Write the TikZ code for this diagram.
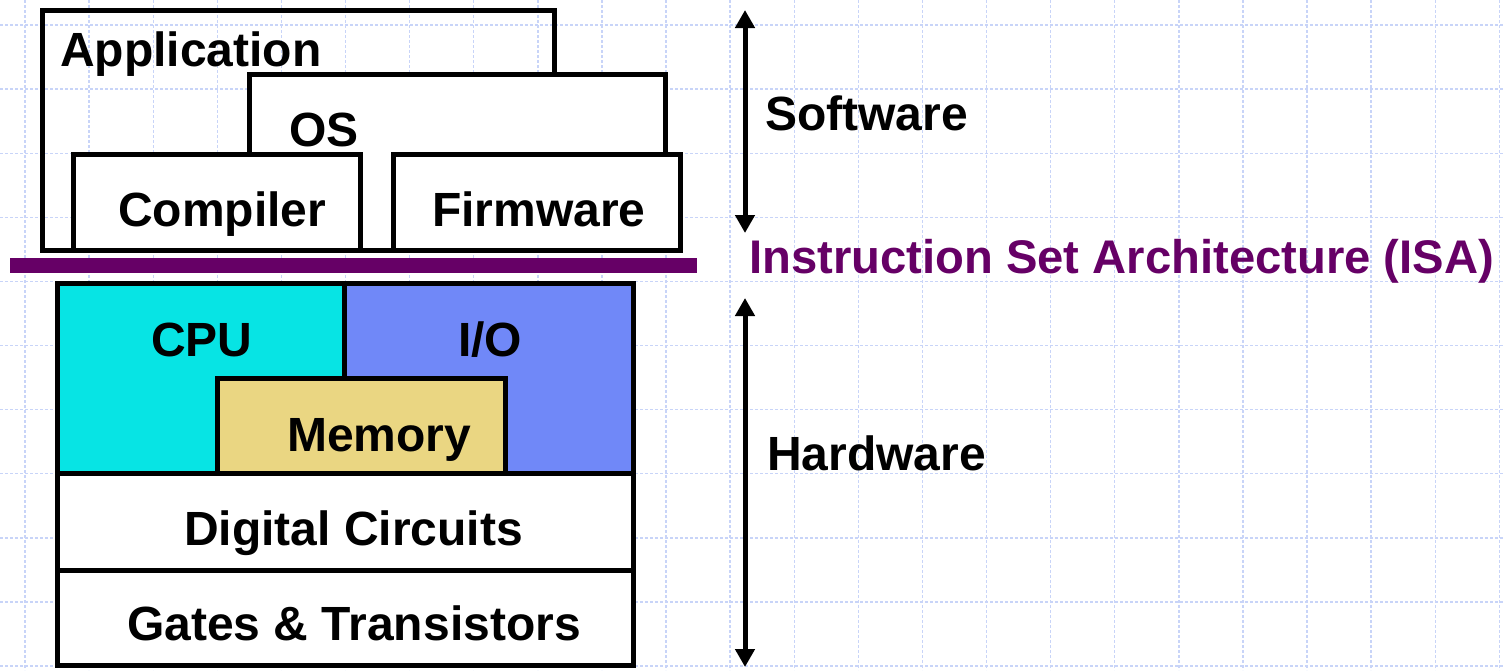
\documentclass[tikz,border=0pt]{standalone}
\usepackage{fontspec}
\setmainfont{Liberation Sans}
\usetikzlibrary{arrows.meta}

\definecolor{gridblue}{RGB}{200,212,248}
\definecolor{isapurple}{RGB}{102,0,102}
\definecolor{cpucyan}{RGB}{7,228,228}
\definecolor{ioblue}{RGB}{112,136,248}
\definecolor{memyellow}{RGB}{234,214,130}

\begin{document}
\begin{tikzpicture}[x=1pt,y=-1pt,
  gridline/.style={draw=gridblue,line width=1.4pt,dash pattern=on 3pt off 2pt},
  layer/.style={draw=black,line width=5pt,line join=miter},
  label/.style={anchor=base west,inner sep=0pt,font=\fontsize{48}{50}\selectfont\bfseries},
  span/.style={line width=5pt,{Triangle[width=19pt,length=18pt]}-{Triangle[width=19pt,length=18pt]}}]

\useasboundingbox[fill=white] (0,0) rectangle (1503,670);

% background grid
\foreach \i in {0,...,23} {
  \draw[gridline] ({25+64.1*\i},0) -- ({25+64.1*\i},670);
}
\foreach \j in {0,...,10} {
  \draw[gridline] (0,{25+64.1*\j}) -- (1503,{25+64.1*\j});
}

% software layers
\draw[layer] (42,10) rectangle (554,250);
\draw[layer,fill=white] (249,74) rectangle (665,250);
\draw[layer,fill=white] (73,154) rectangle (360,250);
\draw[layer,fill=white] (393,154) rectangle (680,250);

\node[label] (app) at (60,66) {Application};
\node[label] (os) at (289,146) {OS};
\node[label] (comp) at (118,226) {Compiler};
\node[label] (firm) at (432,226) {Firmware};

% ISA boundary
\fill[isapurple] (10,258) rectangle (697,273);
\node[label,text=isapurple,font=\fontsize{47.2}{50}\selectfont\bfseries] (isa) at (749,273) {Instruction Set Architecture (ISA)};

% hardware layers
\draw[layer,fill=cpucyan] (57,283) rectangle (344,473);
\draw[layer,fill=ioblue] (344,283) rectangle (633,473);
\draw[layer,fill=memyellow] (217,378) rectangle (505,473);
\draw[layer,fill=white] (57,473) rectangle (633,570);
\draw[layer,fill=white] (57,570) rectangle (633,665);

\node[label] (cpu) at (151,356) {CPU};
\node[label] (io) at (458,356) {I/O};
\node[label] (mem) at (287,451) {Memory};
\node[label] (dig) at (184,545) {Digital Circuits};
\node[label] (gates) at (127,640) {Gates \& Transistors};

% extent arrows
\coordinate (swtop) at (745,10);
\coordinate (swbot) at (745,233);
\coordinate (hwtop) at (745,298);
\coordinate (hwbot) at (745,667);
\draw[span] (swtop) -- (swbot);
\draw[span] (hwtop) -- (hwbot);

\node[label] (sw) at (765,130) {Software};
\node[label] (hw) at (767,470) {Hardware};
\end{tikzpicture}
\end{document}
